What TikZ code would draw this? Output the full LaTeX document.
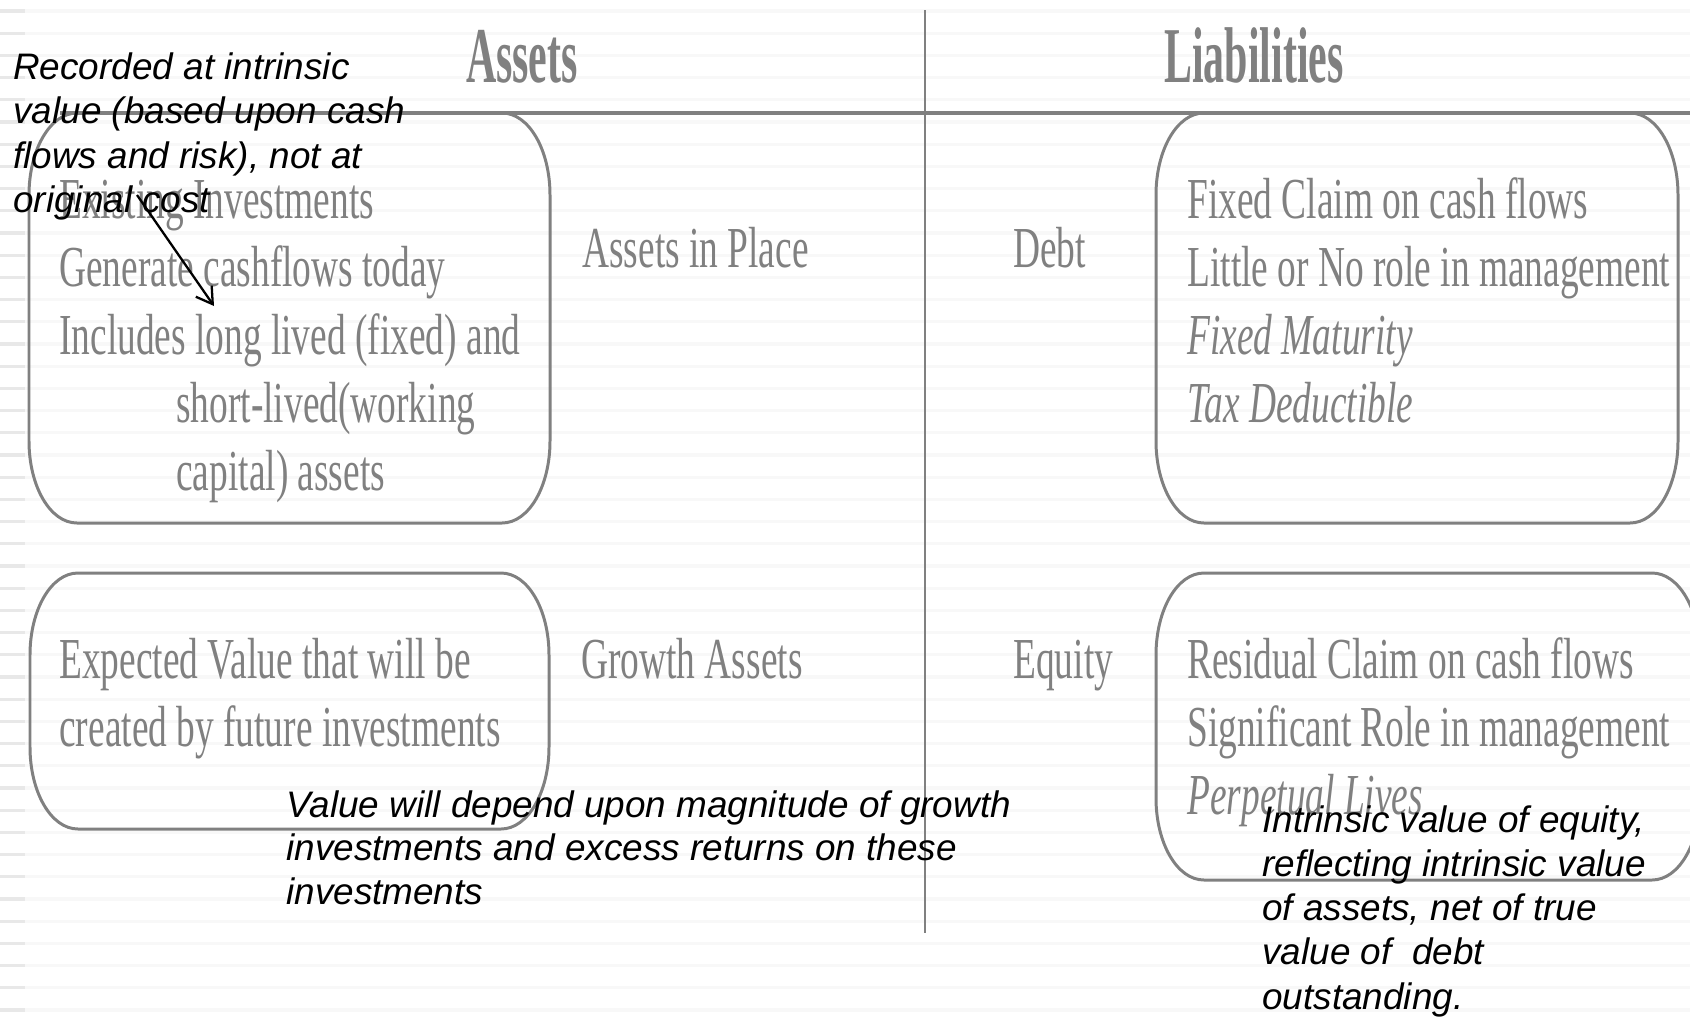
\documentclass[tikz,border=0pt]{standalone}
\usepackage{fontspec}
\setsansfont{Liberation Sans}
\newfontfamily\bodyserif[FakeStretch=0.645]{Liberation Serif}
\newfontfamily\headserif[FakeStretch=0.53]{Liberation Serif}
\usetikzlibrary{arrows.meta}
\definecolor{slate}{HTML}{808080}
\definecolor{ruleline}{HTML}{F8F8F8}
\definecolor{ruleedge}{HTML}{E8E8E8}

% box with oval corners: x1 y1 x2 y2 (pixels)
\newcommand\ovalbox[4]{\draw[boxline] (#1+48,#2)--(#3-48,#2)
    .. controls (#3-21,#2) and (#3,#2+37) .. (#3,#2+82)--(#3,#4-82)
    .. controls (#3,#4-37) and (#3-21,#4) .. (#3-48,#4)--(#1+48,#4)
    .. controls (#1+21,#4) and (#1,#4-37) .. (#1,#4-82)--(#1,#2+82)
    .. controls (#1,#2+37) and (#1+21,#2) .. (#1+48,#2)--cycle;}

\begin{document}
\begin{tikzpicture}[x=0.02cm, y=-0.02cm, >=stealth,
    boxline/.style={draw=slate, line width=1.7pt},
    gtext/.style={text=slate, inner sep=0pt, anchor=base west,
        font=\bodyserif\fontsize{33}{38.7}\selectfont},
    head/.style={text=slate, inner sep=0pt, anchor=base,
        font=\headserif\bfseries\fontsize{45}{50}\selectfont},
    note/.style={inner sep=0pt, anchor=base west,
        font=\sffamily\itshape\fontsize{21}{25}\selectfont}]
    \useasboundingbox (0,0) rectangle (1690,1019);
    \clip (0,0) rectangle (1690,1019);

    % ruled paper
    \foreach \k in {0,...,45}
    {\draw[ruleline, line width=1.9pt] (0,11+22.2*\k)--(1690,11+22.2*\k);
    \draw[ruleedge, line width=1.9pt] (0,11+22.2*\k)--(25,11+22.2*\k);}

    % balance sheet rules
    \draw[slate, line width=2.3pt] (60,113)--(1690,113);
    \draw[slate, line width=1.4pt] (925,10)--(925,933);

    \node(assets)[head] at (522,82) {Assets};
    \node(liab)[head] at (1254,82) {Liabilities};

    % boxes
    \ovalbox{29}{113}{550}{523}
    \ovalbox{30}{573}{549}{829}
    \ovalbox{1156}{113}{1678}{523}
    \ovalbox{1156}{573}{1700}{880}

    % asset side
    \foreach \x/\t[count=\i from 0] in {59/{Existing Investments}, 59/{Generate cashflows today},
        59/{Includes long lived (fixed) and}, 176/{short-lived(working}, 176/{capital) assets}}
    {\node(inplace\i)[gtext] at (\x,218+68*\i) {\t};}
    \node(aip)[gtext] at (582,267) {Assets in Place};

    \foreach \t[count=\i from 0] in {Expected Value that will be, created by future investments}
    {\node(future\i)[gtext] at (59,678+68*\i) {\t};}
    \node(growth)[gtext] at (581,678) {Growth Assets};

    % liability side
    \node(debt)[gtext] at (1013,267) {Debt};
    \foreach \t[count=\i from 0] in {Fixed Claim on cash flows, Little or No role in management,
        \textit{Fixed Maturity}, \textit{Tax Deductible}}
    {\node(fixed\i)[gtext] at (1187,218+68*\i) {\t};}

    \node(equity)[gtext] at (1013,678) {Equity};
    \foreach \t[count=\i from 0] in {Residual Claim on cash flows, Significant Role in management,
        \textit{Perpetual Lives}}
    {\node(resid\i)[gtext] at (1187,678+68*\i) {\t};}

    % notes
    \foreach \t[count=\i from 0] in {Recorded at intrinsic, {value (based upon cash},
        {flows and risk), not at}, original cost}
    {\node(cost\i)[note] at (13,79+44.5*\i) {\t};}

    \foreach \t[count=\i from 0] in {Value will depend upon magnitude of growth,
        investments and excess returns on these, investments}
    {\node(magn\i)[note] at (286,817+43.5*\i) {\t};}

    \foreach \t[count=\i from 0] in {{Intrinsic value of equity,}, reflecting intrinsic value,
        {of assets, net of true}, value of \ debt, outstanding.}
    {\node(net\i)[note] at (1262,832+44.3*\i) {\t};}

    \coordinate(from) at (137,195);
    \coordinate(to) at (214,306);
    \draw[-{Straight Barb[length=9pt,width=11pt]}, line width=1.3pt] (from)--(to);
\end{tikzpicture}
\end{document}
